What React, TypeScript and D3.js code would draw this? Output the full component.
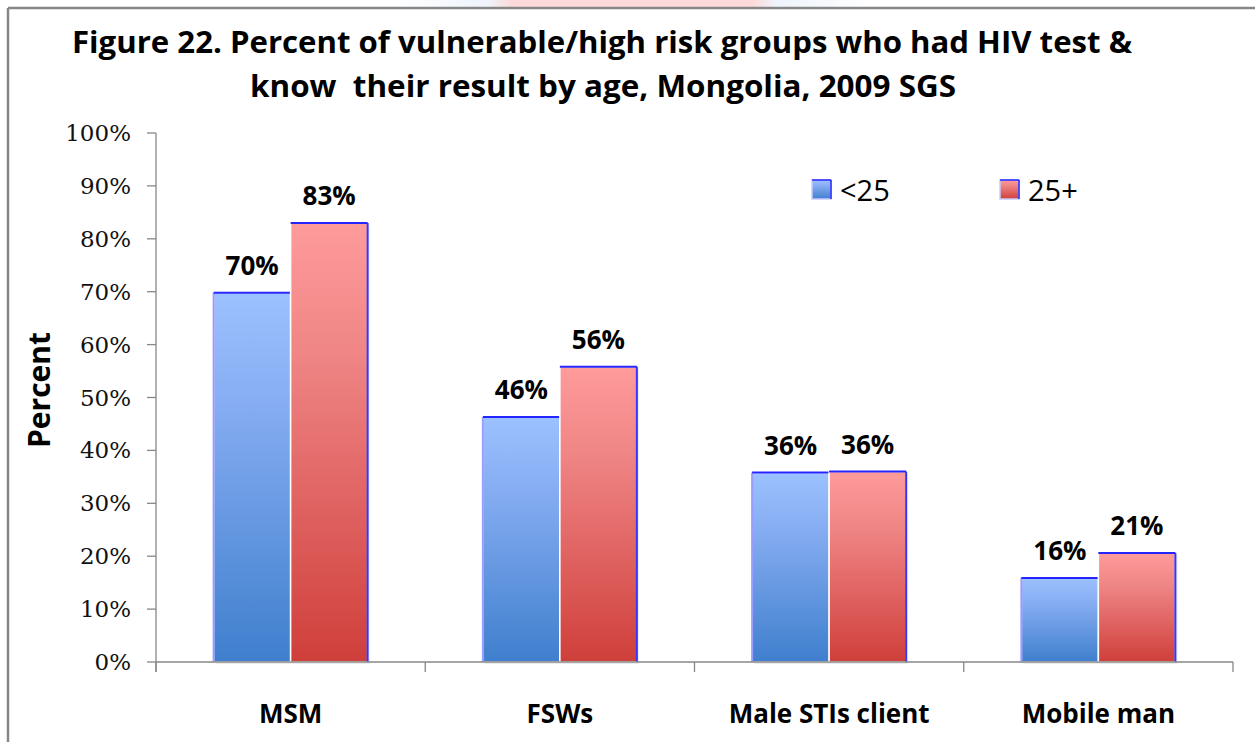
import React from "react";
import * as d3 from "d3";

const categories = ["MSM", "FSWs", "Male STIs client", "Mobile man"];
const seriesNames = ["<25", "25+"];
const under25 = [69.8, 46.3, 35.8, 15.9];
const over25 = [83.0, 55.8, 36.0, 20.6];
const yTicks = [0, 10, 20, 30, 40, 50, 60, 70, 80, 90, 100];
const titleLines = [
  "Figure 22. Percent of vulnerable/high risk groups who had HIV test &",
  "know  their result by age, Mongolia, 2009 SGS",
];

const W = 1255;
const H = 742;
const left = 156;
const right = 1233;
const top = 133;
const bottom = 662;

const colors = [
  { light: "#9cc1ff", mid: "#86adf2", dark: "#3f7fcd" },
  { light: "#ff9b9b", mid: "#ef8585", dark: "#cf3f3b" },
];

export default function App() {
  const y = d3.scaleLinear().domain([0, 100]).range([bottom, top]);
  const x0 = d3
    .scaleBand<string>()
    .domain(categories)
    .range([left, right])
    .paddingInner(0.428)
    .paddingOuter(0.214);
  const x1 = d3
    .scaleBand<string>()
    .domain(seriesNames)
    .range([0, x0.bandwidth()])
    .padding(0);
  const step = x0.step();
  const boundaries = d3.range(categories.length + 1).map((i) => left + i * step);
  const series = [under25, over25];

  const sans = "'Open Sans', 'DejaVu Sans', sans-serif";
  const serif = "'DejaVu Serif', 'Liberation Serif', serif";

  return (
    <svg
      width={W}
      height={H}
      style={{ position: "absolute", left: 0, top: 0, background: "#fff" }}
    >
      <defs>
        {colors.map((c, i) => (
          <linearGradient key={i} id={`g${i}`} x1="0" y1="0" x2="0" y2="1">
            <stop offset="0" stopColor={c.light} />
            <stop offset="0.3" stopColor={c.mid} />
            <stop offset="1" stopColor={c.dark} />
          </linearGradient>
        ))}
        <linearGradient id="topbleed" x1="0" y1="0" x2="1" y2="0">
          <stop offset="0" stopColor="#eef4fb" stopOpacity="0" />
          <stop offset="0.2" stopColor="#eef4fb" />
          <stop offset="0.25" stopColor="#fbd9d9" />
          <stop offset="0.75" stopColor="#fbd9d9" />
          <stop offset="0.8" stopColor="#eef4fb" />
          <stop offset="1" stopColor="#eef4fb" stopOpacity="0" />
        </linearGradient>
      </defs>

      {/* slide bleed and frame */}
      <rect x={392} y={0} width={480} height={7} fill="url(#topbleed)" />
      <line x1={8} y1={8} x2={W} y2={8} stroke="#878787" strokeWidth={2.5} />
      <line x1={8} y1={8} x2={8} y2={H} stroke="#878787" strokeWidth={2.5} />

      {/* title */}
      <text x={602} y={53} textAnchor="middle" fontFamily={sans} fontWeight={700} fontSize={30}
        textLength={1060} lengthAdjust="spacingAndGlyphs" fill="#000" style={{ whiteSpace: "pre" }}>
        {titleLines[0]}
      </text>
      <text x={603} y={97} textAnchor="middle" fontFamily={sans} fontWeight={700} fontSize={30}
        textLength={706} lengthAdjust="spacingAndGlyphs" fill="#000" style={{ whiteSpace: "pre" }}>
        {titleLines[1]}
      </text>

      {/* y axis */}
      <line x1={left} y1={top} x2={left} y2={bottom + 10} stroke="#878787" strokeWidth={1.3} />
      {yTicks.map((t) => (
        <g key={t}>
          <line x1={left - 9} x2={left} y1={y(t)} y2={y(t)} stroke="#878787" strokeWidth={1.3} />
          <text x={131} y={y(t) + 8} textAnchor="end" fontFamily={serif} fontSize={23} fill="#111">
            {`${t}%`}
          </text>
        </g>
      ))}
      <text
        transform={`translate(50, 390) rotate(-90)`}
        textAnchor="middle"
        fontFamily={sans}
        fontWeight={700}
        fontSize={30}
        fill="#000"
      >
        Percent
      </text>

      {/* bars */}
      {categories.map((cat, ci) => (
        <g key={cat}>
          {seriesNames.map((s, si) => {
            const v = series[si][ci];
            const bx = (x0(cat) as number) + (x1(s) as number);
            const bw = x1.bandwidth();
            const by = y(v);
            const bh = bottom - by;
            return (
              <g key={s}>
                <rect x={bx + 2} y={by + 2} width={bw} height={bh} fill="#d8d8d8" opacity={0.5} />
                <rect x={bx} y={by} width={bw} height={bh} fill={`url(#g${si})`} stroke="#ffffff" strokeWidth={1.5} />
                {si === 0 ? (
                  <>
                    <line x1={bx} y1={by} x2={bx} y2={bottom} stroke="#9a9cff" strokeWidth={2} />
                    <line x1={bx} y1={by} x2={bx + bw} y2={by} stroke="#2424ff" strokeWidth={2} />
                  </>
                ) : (
                  <>
                    <line x1={bx + bw} y1={by} x2={bx + bw} y2={bottom} stroke="#3535ff" strokeWidth={2} />
                    <line x1={bx} y1={by} x2={bx + bw} y2={by} stroke="#2424ff" strokeWidth={2} />
                  </>
                )}
                <text
                  x={bx + bw / 2}
                  y={by - 18}
                  textAnchor="middle"
                  fontFamily={sans}
                  fontWeight={700}
                  fontSize={26}
                  fill="#000"
                >
                  {`${Math.round(v)}%`}
                </text>
              </g>
            );
          })}
          <text
            x={(x0(cat) as number) + x0.bandwidth() / 2}
            y={723}
            textAnchor="middle"
            fontFamily={sans}
            fontWeight={700}
            fontSize={26}
            fill="#000"
          >
            {cat}
          </text>
        </g>
      ))}

      {/* x axis */}
      <line x1={left} y1={bottom} x2={right} y2={bottom} stroke="#878787" strokeWidth={1.3} />
      {boundaries.map((b, i) => (
        <line key={i} x1={b} x2={b} y1={bottom} y2={bottom + 10} stroke="#878787" strokeWidth={1.3} />
      ))}

      {/* legend */}
      {seriesNames.map((s, i) => {
        const lx = [812, 1000][i];
        return (
          <g key={s}>
            <rect x={lx} y={180} width={19} height={19} fill={`url(#g${i})`} stroke="#c9c9ff" strokeWidth={1.5} />
            <line x1={lx} y1={180} x2={lx + 19} y2={180} stroke="#2424ff" strokeWidth={1.5} />
            <line x1={lx + 19} y1={180} x2={lx + 19} y2={199} stroke="#2424ff" strokeWidth={1.5} />
            <text x={lx + 28} y={201} fontFamily={sans} fontSize={29} fill="#000">
              {s}
            </text>
          </g>
        );
      })}
    </svg>
  );
}
